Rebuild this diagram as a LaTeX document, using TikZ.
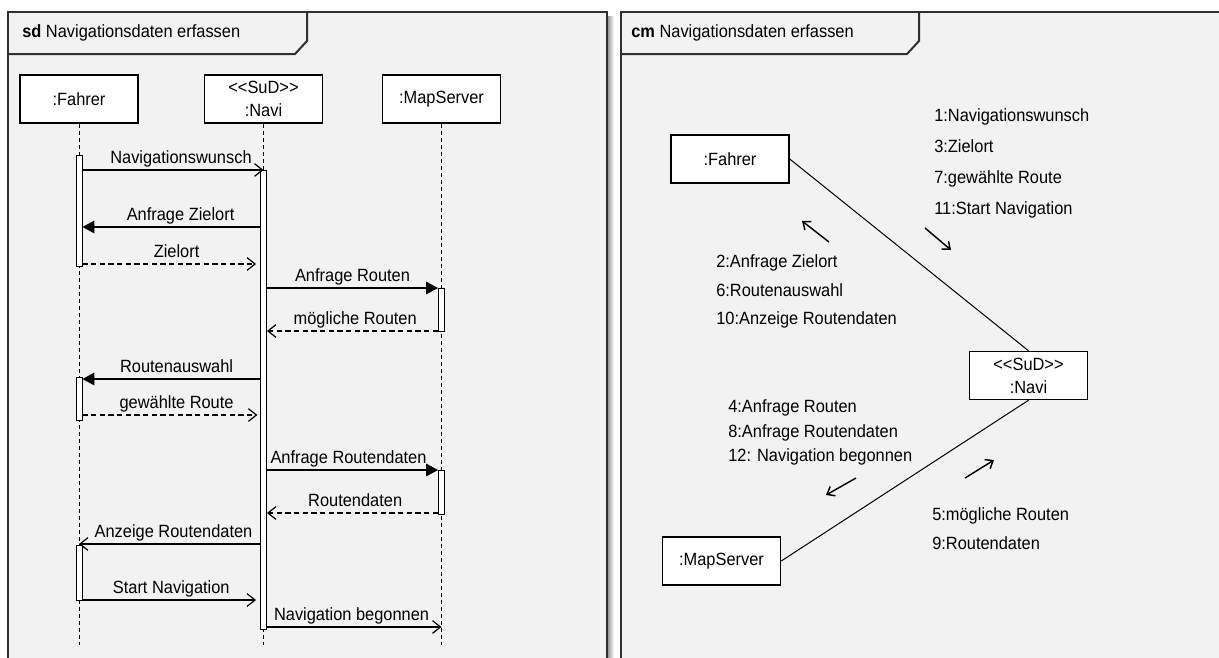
\documentclass[tikz,border=0pt]{standalone}
\usepackage{fontspec}
\setmainfont{Liberation Sans}[FakeStretch=0.925]
\usetikzlibrary{arrows.meta,calc,positioning}
\definecolor{panel}{HTML}{F2F2F2}
\definecolor{edge}{HTML}{303030}
\newcommand{\msgfont}{\fontsize{13.3}{17.25}\selectfont}
\tikzset{
  umlframe/.style = {draw=edge, line width=1.5pt, fill=panel},
  tab/.style      = {draw=edge, line width=1.5pt},
  box/.style      = {draw, line width=1.1pt, fill=white, minimum width=88.5pt,
                     minimum height=36pt, inner sep=1pt, align=center, font=\msgfont},
  actbar/.style   = {draw, line width=0.7pt, fill=white, minimum width=4.5pt,
                     inner sep=0pt, anchor=north},
  life/.style     = {line width=0.6pt, dash pattern=on 3pt off 2.25pt},
  sync/.style     = {line width=0.9pt, -{Triangle[length=9pt,width=9.5pt]}},
  async/.style    = {line width=0.9pt, -{Straight Barb[length=6pt,width=9.5pt]}},
  reply/.style    = {async, dash pattern=on 4pt off 2.5pt},
  lbl/.style      = {anchor=base, yshift=5.25pt, inner sep=0pt, font=\msgfont},
  link/.style     = {line width=0.75pt},
  dir/.style      = {line width=1.1pt, -{Straight Barb[length=5pt,width=8pt]}},
  note/.style     = {anchor=west, inner sep=0pt, align=left},
}

\begin{document}
\begin{tikzpicture}[x=0.75pt,y=-0.75pt]
  \useasboundingbox (0,0) rectangle (1219,657);
  \clip (0,0) rectangle (1219,657);
  \fill[white] (0,0) rectangle (1219,657);

  % sequence diagram
  \shade[left color=black!45, right color=white] (607,16) rectangle (614,670);
  \draw[umlframe] (8,12) rectangle (607,670);
  \draw[tab] (8,54) -- (295,54) -- (307,41) -- (307,12);
  \node[anchor=west, inner sep=0pt, font=\msgfont] (sdtitle) at (22,33)
      {\textbf{sd} Navigationsdaten erfassen};

  \node[box] (fahrer) at (79,99)    {:Fahrer};
  \node[box] (navi)   at (263.5,99) {<{}<SuD>{}>\\:Navi};
  \node[box] (mapsrv) at (441.5,99) {:MapServer};

  \draw[life] (fahrer.south) -- (fahrer.south |- 0,645);
  \draw[life] (navi.south)   -- (navi.south |- 0,645);
  \draw[life] (mapsrv.south) -- (mapsrv.south |- 0,645);

  \node[actbar, minimum height=83.25pt]  (fa1) at (79,155)    {};
  \node[actbar, minimum height=344.25pt] (nv1) at (263.5,170) {};
  \node[actbar, minimum height=32.25pt]  (ms1) at (441.5,288) {};
  \node[actbar, minimum height=32.25pt]  (fa2) at (79,377)    {};
  \node[actbar, minimum height=33pt]     (ms2) at (441.5,470) {};
  \node[actbar, minimum height=41.25pt]  (fa3) at (79,545)    {};

  \draw[async] (fa1.east |- 0,170) -- (navi |- 0,170)
      node[lbl, midway, xshift=6pt] {Navigationswunsch};
  \draw[sync] (nv1.west |- 0,227) -- (fa1.east |- 0,227)
      node[lbl, midway, xshift=7pt] {Anfrage Zielort};
  \draw[reply, shorten >=3pt] (fa1.east |- 0,264) -- (nv1.west |- 0,264)
      node[lbl, midway, xshift=4pt] {Zielort};
  \draw[sync] (nv1.east |- 0,288) -- (ms1.west |- 0,288)
      node[lbl, midway] {Anfrage Routen};
  \draw[reply] (ms1.west |- 0,331) -- (nv1.east |- 0,331)
      node[lbl, midway, xshift=2pt] {mögliche Routen};
  \draw[sync] (nv1.west |- 0,379) -- (fa2.east |- 0,379)
      node[lbl, midway, xshift=4pt] {Routenauswahl};
  \draw[reply, shorten >=2pt] (fa2.east |- 0,415) -- (nv1.west |- 0,415)
      node[lbl, midway, xshift=4pt] {gewählte Route};
  \draw[sync] (nv1.east |- 0,470) -- (ms2.west |- 0,470)
      node[lbl, midway, xshift=-3pt] {Anfrage Routendaten};
  \draw[reply] (ms2.west |- 0,513) -- (nv1.east |- 0,513)
      node[lbl, midway, xshift=2pt] {Routendaten};
  \draw[async] (nv1.west |- 0,544) -- (fahrer |- 0,544)
      node[lbl, midway, xshift=3pt] {Anzeige Routendaten};
  \draw[async, shorten >=3pt] (fa3.east |- 0,600) -- (nv1.west |- 0,600)
      node[lbl, midway] {Start Navigation};
  \draw[async] (nv1.east |- 0,627) -- (mapsrv |- 0,627)
      node[lbl, midway, xshift=-2pt] {Navigation begonnen};

  % communication diagram
  \draw[umlframe] (621,12) rectangle (1240,670);
  \draw[tab] (621,54) -- (907,54) -- (919,41) -- (919,12);
  \node[anchor=west, inner sep=0pt, font=\msgfont] (cmtitle) at (631,33)
      {\textbf{cm} Navigationsdaten erfassen};

  \node[box] (cfahrer) at (730,159)      {:Fahrer};
  \node[box] (cnavi)   at (1028.5,375.5) {<{}<SuD>{}>\\:Navi};
  \node[box] (cmap)    at (721.5,561)    {:MapServer};

  \draw[link] (cfahrer.east) -- (cnavi.north);
  \draw[link] (cnavi.south) -- (cmap.east);

  \draw[dir] (829,242) -- (802,221);
  \draw[dir] (925,228) -- (951,250);
  \draw[dir] (856,478) -- (826,495);
  \draw[dir] (965,478) -- (994,460);

  \node[note, font=\fontsize{13.3}{23.25}\selectfont] (fwd) at (934,163.5)
      {1:Navigationswunsch\\3:Zielort\\7:gewählte Route\\11:Start Navigation};
  \node[note, font=\fontsize{13.3}{21.4}\selectfont] (back) at (716,291.5)
      {2:Anfrage Zielort\\6:Routenauswahl\\10:Anzeige Routendaten};
  \node[note, font=\fontsize{13.3}{18.4}\selectfont] (req) at (728,432.5)
      {4:Anfrage Routen\\8:Anfrage Routendaten\\12: Navigation begonnen};
  \node[note, font=\fontsize{13.3}{21.75}\selectfont] (resp) at (932,528.5)
      {5:mögliche Routen\\9:Routendaten};
\end{tikzpicture}
\end{document}
